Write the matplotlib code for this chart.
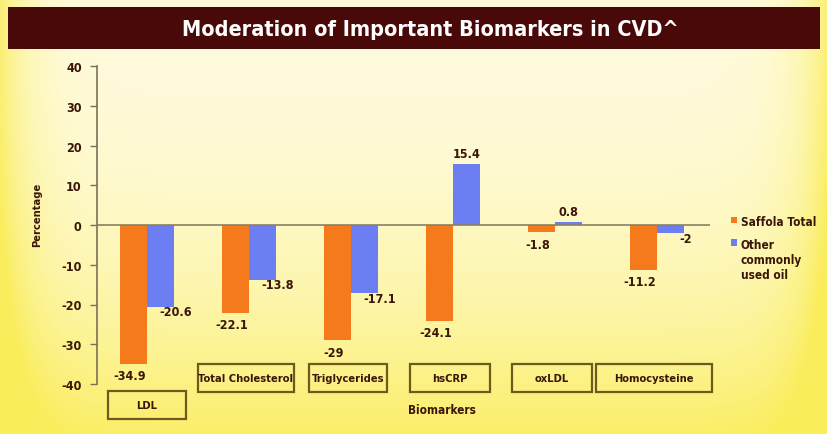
import numpy as np
import matplotlib
matplotlib.use('Agg')
import matplotlib.pyplot as plt
import matplotlib.patches as patches
import matplotlib.transforms as mtransforms

plt.rcParams['font.family'] = ['DejaVu Sans']
plt.rcParams['font.stretch'] = 'condensed'
plt.rcParams['font.weight'] = 'bold'
plt.rcParams['axes.unicode_minus'] = False

# data
categories = ['LDL', 'Total Cholesterol', 'Triglycerides', 'hsCRP', 'oxLDL', 'Homocysteine']
saffola = [-34.9, -22.1, -29, -24.1, -1.8, -11.2]
other_oil = [-20.6, -13.8, -17.1, 15.4, 0.8, -2]
series_names = ['Saffola Total', 'Other\ncommonly\nused oil']
title = 'Moderation of Important Biomarkers in CVD^'
yticks = [-40, -30, -20, -10, 0, 10, 20, 30, 40]

ORANGE = '#F57A1C'
BLUE = '#6B7FF2'
TXT = '#3A1608'
EDGE = '#6E5A1C'

fig = plt.figure(figsize=(8.28, 4.35), dpi=100)

# background gradient
bg = fig.add_axes([0, 0, 1, 1], zorder=-5)
ny, nx = 200, 400
t = np.linspace(0, 1, ny)[:, None]
h = np.linspace(-1, 1, nx)[None, :]
mix = np.clip(0.9 * t ** 2.2 + 0.8 * np.abs(h) ** 14, 0, 1)
cream = np.array([1.0, 0.985, 0.87])
yellow = np.array([0.98, 0.93, 0.36])
img = cream * (1 - mix[..., None]) + yellow * mix[..., None]
bg.imshow(img, extent=[0, 1, 0, 1], aspect='auto', origin='upper')
bg.set_axis_off()

# title bar
bar = patches.Rectangle((8 / 828, 1 - 50 / 435), 812 / 828, 42 / 435,
                        transform=fig.transFigure, facecolor='#4A0909',
                        edgecolor='none', zorder=1)
fig.patches.append(bar)
fig.text(430 / 828, 1 - 30 / 435, title, color='white', fontsize=15.5, fontweight='bold',
         ha='center', va='center', zorder=2)

ax = fig.add_axes([97 / 828, 1 - 385 / 435, (710 - 97) / 828, 318 / 435])
ax.patch.set_alpha(0)

x = np.arange(len(categories))
w = 0.265
ax.bar(x - w / 2, saffola, w, color=ORANGE, zorder=2)
ax.bar(x + w / 2, other_oil, w, color=BLUE, zorder=2)

ax.axhline(0, color='#8A8060', lw=1.2, zorder=3)
ax.set_xlim(-0.49, 5.52)
ax.set_ylim(-40, 40)
ax.set_yticks(yticks)
ax.set_xticks([])
for s in ['top', 'right', 'bottom']:
    ax.spines[s].set_visible(False)
ax.spines['left'].set_color('#7A7058')
ax.spines['left'].set_linewidth(1.2)
ax.tick_params(axis='y', direction='out', length=5, width=1, color='#7A7058',
               labelsize=9, labelcolor=TXT, pad=6)

# value labels
for xi, v in zip(x, saffola):
    ax.annotate(f'{v:g}', (xi - w / 2 - 0.04, v), xytext=(0, -4), textcoords='offset points',
                ha='center', va='top', fontsize=9, color=TXT)
for xi, v in zip(x, other_oil):
    if v >= 0:
        ax.annotate(f'{v:g}', (xi + w / 2, v), xytext=(0, 3), textcoords='offset points',
                    ha='center', va='bottom', fontsize=9, color=TXT)
    else:
        ax.annotate(f'{v:g}', (xi + w / 2 + 0.15, v), xytext=(0, 1), textcoords='offset points',
                    ha='center', va='top', fontsize=9, color=TXT)

# category boxes
trans = mtransforms.blended_transform_factory(ax.transData, ax.transAxes)
box_w = [0.76, 0.94, 0.77, 0.78, 0.78, 1.13]
for i, (cat, bw) in enumerate(zip(categories, box_w)):
    y0 = -0.11 if i == 0 else -0.025
    cx = x[i] - (0.0 if i == 0 else 0.03)
    rect = patches.Rectangle((cx - bw / 2, y0), bw, 0.087, transform=trans,
                             facecolor='none', edgecolor=EDGE, lw=1.6, clip_on=False)
    ax.add_patch(rect)
    ax.text(cx, y0 + 0.0435, cat, transform=trans, ha='center', va='center',
            fontsize=8, color=TXT, clip_on=False)

ax.text(2.89, -0.08, 'Biomarkers', transform=trans, ha='center', va='center',
        fontsize=8.5, color=TXT)
fig.text(37 / 828, 1 - 215 / 435, 'Percentage', rotation=90, ha='center', va='center',
         fontsize=8, color=TXT)

# legend
for j, (name, col) in enumerate(zip(series_names, [ORANGE, BLUE])):
    yy = 0.515 - j * 0.07
    ax.add_patch(patches.Rectangle((1.035, yy - 0.01), 0.009, 0.02, transform=ax.transAxes,
                                   facecolor=col, edgecolor='none', clip_on=False))
    ax.text(1.05, yy + 0.015, name, transform=ax.transAxes, ha='left', va='top',
            fontsize=8.5, color=TXT, linespacing=1.2)

fig.savefig('out.png', dpi=100)
